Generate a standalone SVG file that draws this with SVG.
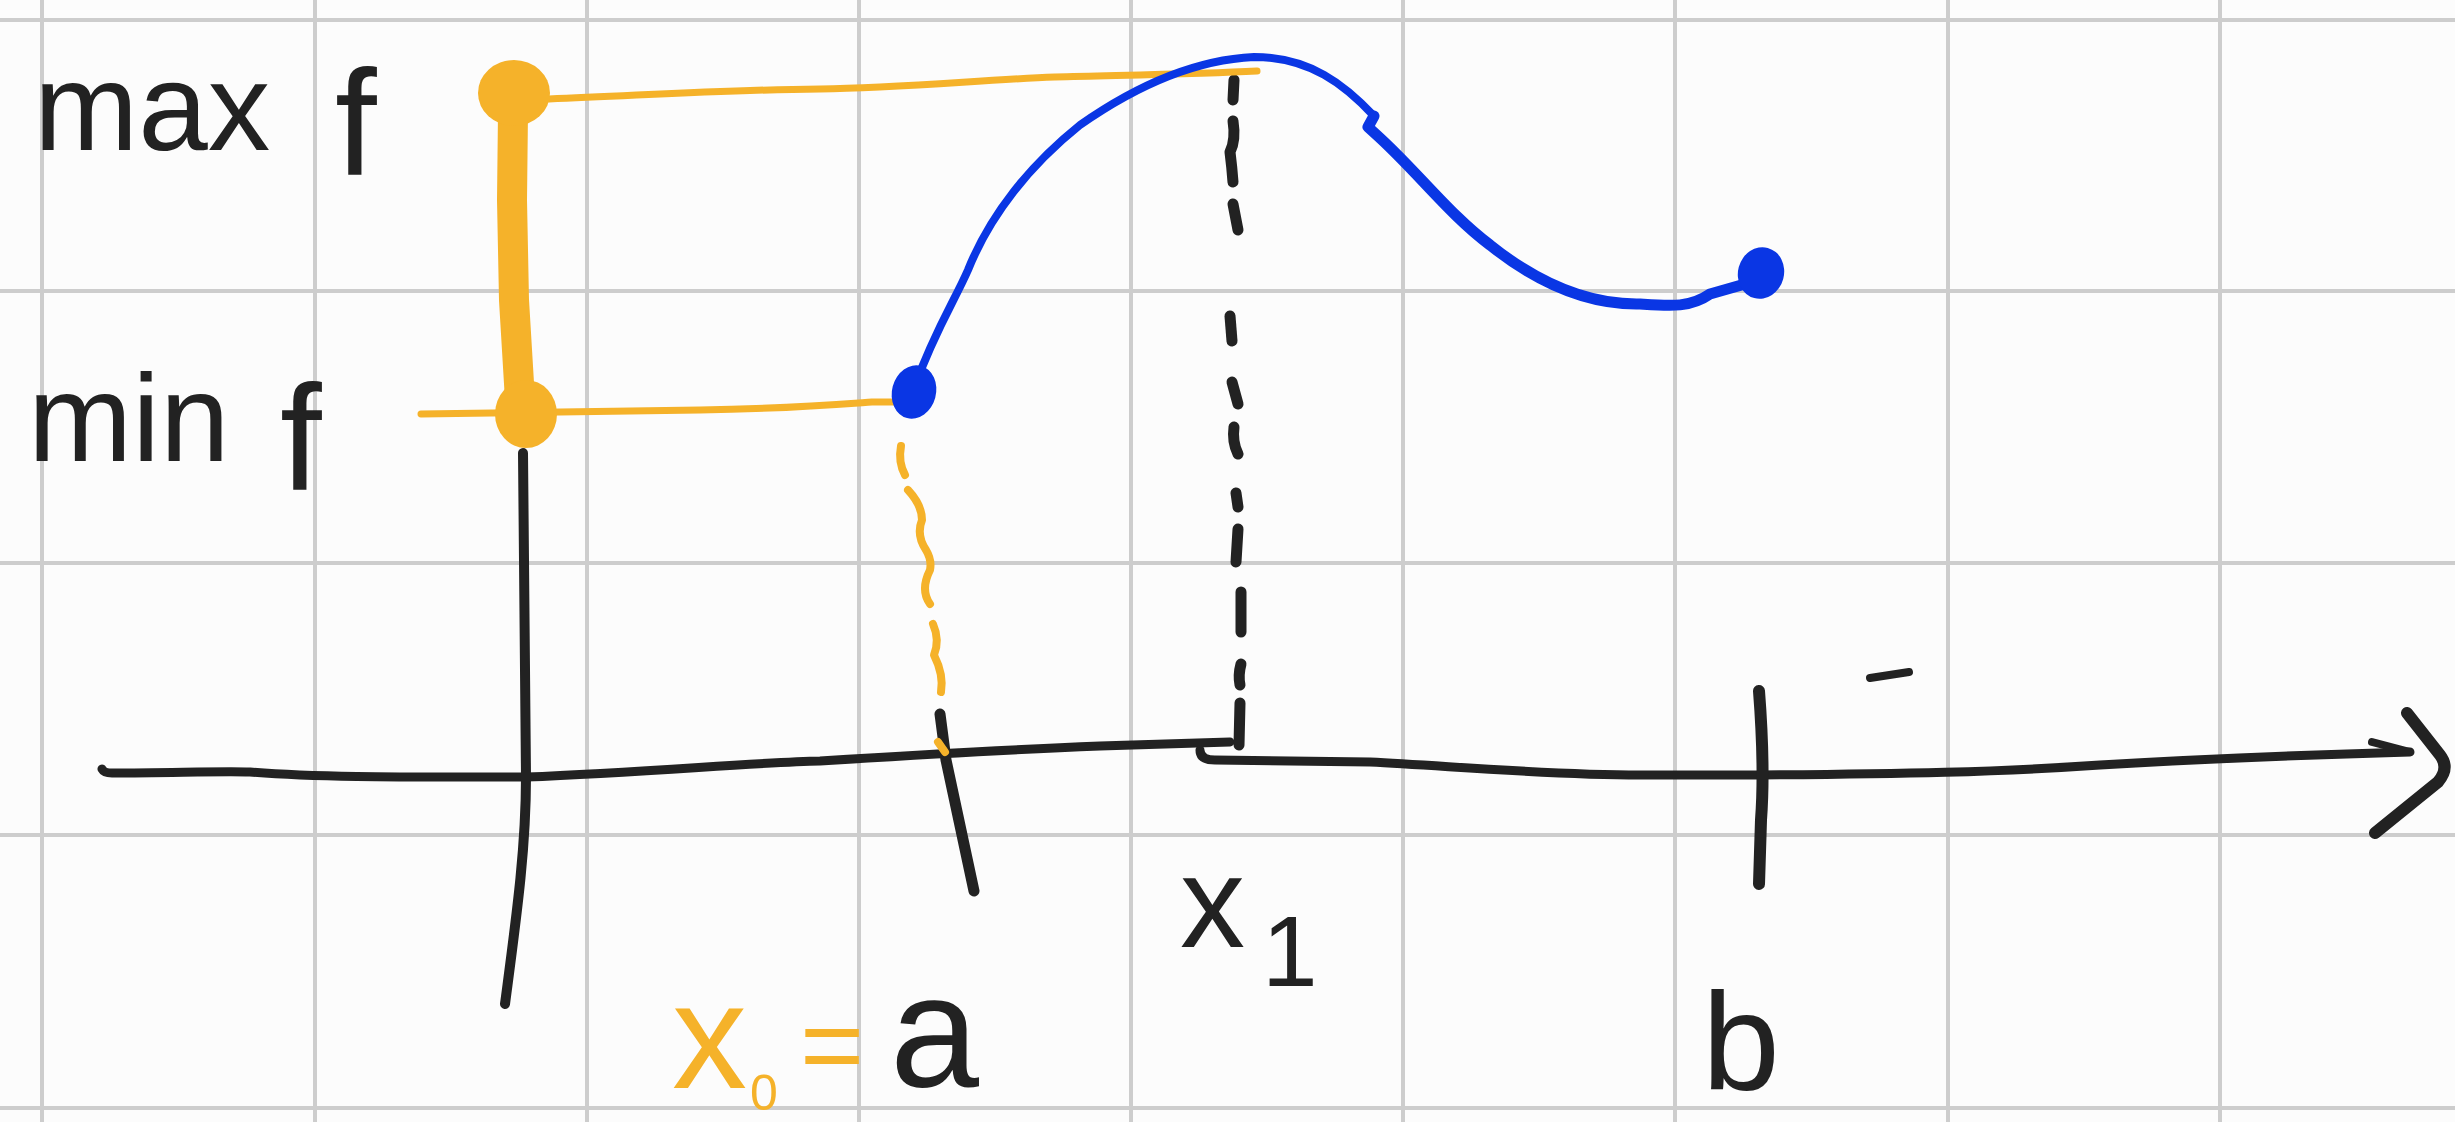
<svg xmlns="http://www.w3.org/2000/svg" width="2455" height="1122" viewBox="0 0 2455 1122">
  <style>
    .grid { stroke: #cdcdcd; stroke-width: 4; fill: none; }
    .ink { stroke: #222222; fill: none; stroke-linecap: round; stroke-linejoin: round; }
    .yel { stroke: #f5b22a; fill: none; stroke-linecap: round; stroke-linejoin: round; }
    .blu { stroke: #0a36e4; fill: none; stroke-linecap: round; stroke-linejoin: round; }
    .lbl { font-family: "Liberation Sans", Arial, sans-serif; fill: #222222; }
    .ylbl { fill: #f5b22a; }
  </style>
  <rect width="2455" height="1122" fill="#fcfcfc"/>
  <g id="grid" class="grid">
    <path d="M42 0V1122M315 0V1122M587 0V1122M859 0V1122M1131 0V1122M1403 0V1122M1675 0V1122M1948 0V1122M2220 0V1122"/>
    <path d="M0 20H2455M0 291H2455M0 563H2455M0 835H2455M0 1108H2455"/>
  </g>
  <g id="axes">
    <path class="ink" stroke-width="9" d="M102 769 Q104 773 112 773 C170 773 220 771 250 772 C320 778 420 777 526 777 C650 772 760 762 820 761 C900 756 1000 750 1100 746 L1230 742"/>
    <path class="ink" stroke-width="9" d="M1200 750 Q1200 760 1215 760 L1370 762 C1450 766 1550 775 1640 775 L1760 775 C1900 774 2000 772 2100 765 C2200 759 2300 755 2410 752"/>
    <path class="ink" stroke-width="8" d="M2372 742 L2410 752"/>
    <path class="ink" stroke-width="12" d="M2407 713 L2440 755 Q2450 768 2438 782 L2375 833"/>
    <path class="ink" stroke-width="10" d="M523 453 L526 777 C526 850 516 920 505 1004"/>
    <path class="ink" stroke-width="11" d="M940 714 L946 760 L974 891"/>
    <path class="ink" stroke-width="12" d="M1759 691 C1762 730 1764 780 1761 820 L1759 884"/>
    <path class="ink" stroke-width="8" d="M1870 678 L1909 672"/>
  </g>
  <g id="x1-dashes" class="ink" stroke-width="11">
    <path d="M1234 80 L1233 100"/>
    <path d="M1233 121 Q1236 140 1230 152 Q1232 168 1233 182"/>
    <path d="M1233 204 L1238 230"/>
    <path d="M1230 316 L1232 341"/>
    <path d="M1232 382 L1238 404"/>
    <path d="M1234 427 Q1232 442 1238 454"/>
    <path d="M1236 493 L1238 507"/>
    <path d="M1238 529 L1236 562"/>
    <path d="M1241 592 L1241 632"/>
    <path d="M1241 664 Q1238 675 1240 685"/>
    <path d="M1240 703 L1239 745"/>
  </g>
  <g id="a-dashes" class="yel" stroke-width="8">
    <path d="M901 446 Q898 462 905 475"/>
    <path d="M908 490 Q922 505 922 520 Q916 535 926 550 Q932 560 930 570 Q920 590 930 604"/>
    <path d="M933 624 Q940 640 934 655 Q944 675 941 692"/>
    <path d="M938 742 L945 752"/>
  </g>
  <g id="range">
    <path class="yel" stroke-width="7" d="M549 99 C650 95 720 90 820 89 C900 88 980 80 1055 77 C1130 75 1200 74 1257 71"/>
    <path class="yel" stroke-width="7" d="M421 414 C500 413 600 412 700 410 C780 409 830 405 872 402 L909 402"/>
    <path class="yel" stroke-width="30" d="M513 112 L512 200 L514 300 L520 400"/>
    <ellipse cx="514" cy="93" rx="36" ry="33" fill="#f5b22a"/>
    <ellipse cx="526" cy="414" rx="31" ry="34" fill="#f5b22a"/>
  </g>
  <g id="curve">
    <path class="blu" stroke-width="8" d="M914 388 C935 330 955 300 968 270 C990 215 1030 165 1080 125 C1130 90 1190 60 1254 57 C1310 57 1345 85 1374 116"/>
    <path class="blu" stroke-width="11" d="M1374 116 L1368 127 L1380 138 C1420 175 1450 215 1490 245 C1540 285 1590 305 1640 304 C1670 306 1690 308 1710 294 L1745 284"/>
    <ellipse cx="914" cy="392" rx="22" ry="27" fill="#0a36e4" transform="rotate(15 914 392)"/>
    <ellipse cx="1761" cy="273" rx="23" ry="26" fill="#0a36e4" transform="rotate(15 1761 273)"/>
  </g>
  <g id="labels" class="lbl">
    <text id="max-f" font-size="125"><tspan x="34" y="150">max</tspan><tspan x="335" y="175" font-size="150">f</tspan></text>
    <text id="min-f" font-size="125"><tspan x="28" y="461">min</tspan><tspan x="280" y="490" font-size="150">f</tspan></text>
    <text id="x0-a"><tspan class="ylbl" x="672" y="1088" font-size="150">x</tspan><tspan class="ylbl" x="750" y="1110" font-size="50">0</tspan><tspan class="ylbl" x="800" y="1082" font-size="110">=</tspan><tspan x="890" y="1086" font-size="160">a</tspan></text>
    <text id="x1" font-size="130"><tspan x="1180" y="947">x</tspan><tspan x="1262" y="986" font-size="100">1</tspan></text>
    <text id="b" x="1702" y="1090" font-size="140">b</text>
  </g>
</svg>
